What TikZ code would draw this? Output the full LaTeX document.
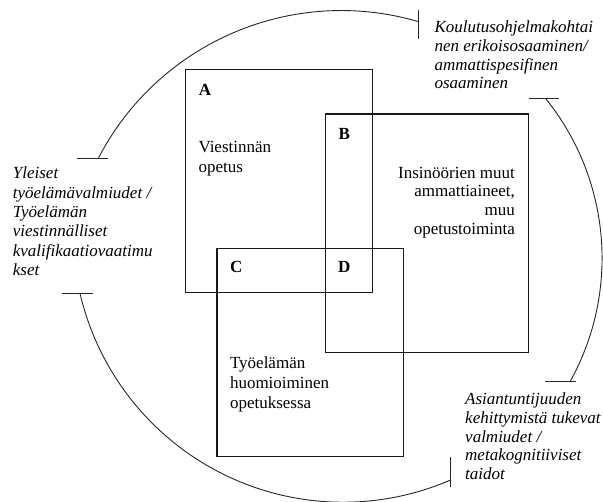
\documentclass[tikz,border=0pt]{standalone}
\usepackage{fontspec}
\setmainfont{Liberation Serif}
\begin{document}
\begin{tikzpicture}[x=1pt,y=1pt,
  box/.style={draw=black!90, line width=1.1pt, inner sep=0pt, outer sep=0pt, anchor=north west},
  arcline/.style={draw=black!85, line width=0.9pt},
  tbar/.style={draw=black!85, line width=1pt},
  lbl/.style={font=\fontsize{17}{19.5}\selectfont\bfseries, inner sep=0pt, anchor=base},
  body/.style={font=\fontsize{17}{20}\selectfont, inner sep=0pt, align=left, anchor=base west},
  bodyr/.style={font=\fontsize{17}{18.9}\selectfont, inner sep=0pt, align=right, anchor=base east},
  side/.style={font=\fontsize{17}{19.3}\selectfont\itshape, inner sep=0pt, align=left, anchor=base west},
  sidet/.style={font=\fontsize{17}{18.7}\selectfont\itshape, inner sep=0pt, align=left, anchor=base west}]
\useasboundingbox (0,0) rectangle (603,502);

% boxes
\node[box, minimum width=187pt, minimum height=223.4pt] (boxA) at (185.5,432.7) {};
\node[box, minimum width=202.6pt, minimum height=238.7pt] (boxB) at (325.7,388) {};
\node[box, minimum width=186.5pt, minimum height=208pt] (boxC) at (217,253.3) {};

% region letters
\node[lbl] (lA) at (205,406.3) {A};
\node[lbl] (lB) at (344.3,362.3) {B};
\node[lbl] (lC) at (236.3,229) {C};
\node[lbl] (lD) at (344.3,229) {D};

% box texts (anchor = baseline of the last line)
\node[body] (tA) at (198.3,329.2) {Viestinnän\\opetus};
\node[bodyr] (tB) at (515,267.2) {Insinöörien muut\\ammattiaineet,\\muu\\opetustoiminta};
\node[body] (tC) at (229.8,93.8) {Työelämän\\huomioiminen\\opetuksessa};

% side texts
\node[side] (sL) at (12.7,226.5) {Yleiset\\työelämävalmiudet /\\Työelämän\\viestinnälliset\\kvalifikaatiovaatimu\\kset};
\node[sidet] (sT) at (434.3,413.2) {Koulutusohjelmakohtai\\nen erikoisosaaminen/\\ammattispesifinen\\osaaminen};
\node[sidet] (sB) at (465,22.5) {Asiantuntijuuden\\kehittymistä tukevat\\valmiudet /\\metakognitiiviset\\taidot};

% arcs
\coordinate (a1s) at (98.3,343.7);
\draw[arcline] (a1s) arc[start angle=152.6, end angle=73.7, radius=273.7] coordinate (a1e);
\draw[tbar] ([xshift=-21.6pt]a1s) -- ([xshift=10pt]a1s);
\draw[tbar] ([yshift=11.3pt]a1e) -- ([yshift=-17pt]a1e);

\coordinate (a2s) at (546,403);
\draw[arcline] (a2s) arc[start angle=38.8, end angle=-29.1, radius=254.1] coordinate (a2e);
\draw[tbar] ([xshift=-17.5pt]a2s) -- ([xshift=13pt]a2s);
\draw[tbar] ([xshift=-25pt]a2e) -- ([xshift=6pt]a2e);

\coordinate (a3s) at (80,208.7);
\draw[arcline] (a3s) arc[start angle=193.1, end angle=293.5, radius=270.2] coordinate (a3e);
\draw[tbar] ([xshift=-18.5pt]a3s) -- ([xshift=12.5pt]a3s);
\draw[tbar] ([yshift=23pt]a3e) -- ([yshift=-7pt]a3e);
\end{tikzpicture}
\end{document}
